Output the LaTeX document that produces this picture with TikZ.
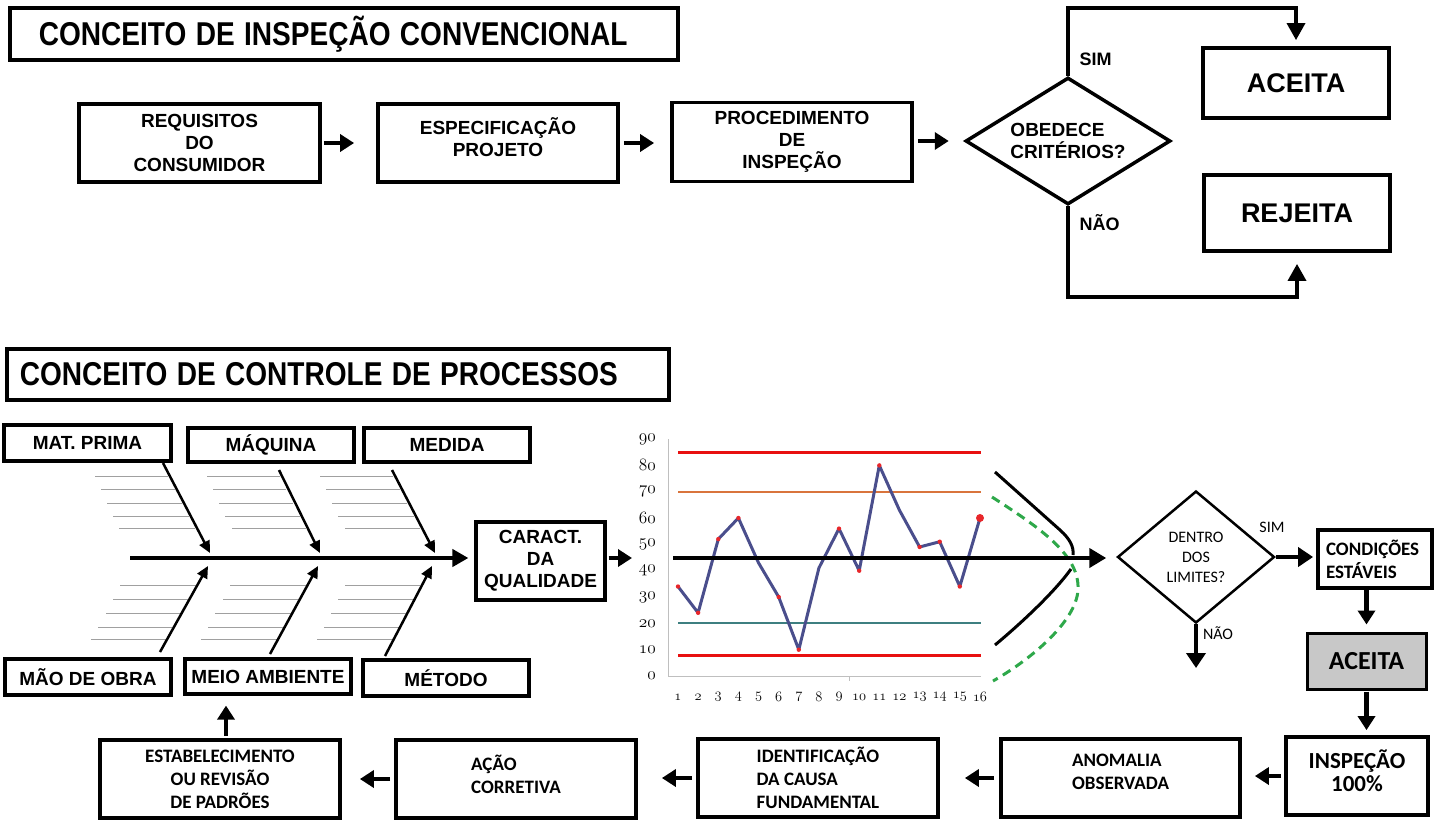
\documentclass[tikz,border=0pt]{standalone}
\usepackage{fontspec}
\setmainfont{Liberation Sans}
\newfontfamily\calfont{Carlito}
\usepackage{graphicx}
\usetikzlibrary{arrows.meta,shapes.geometric,calc}
\definecolor{plotblue}{HTML}{4A4E8C}
\definecolor{ptred}{HTML}{E8262A}
\definecolor{lred}{HTML}{E81010}
\definecolor{lorange}{HTML}{D9743C}
\definecolor{lteal}{HTML}{3D7F80}
\definecolor{hatchc}{HTML}{A0A0A0}
\definecolor{gfill}{HTML}{C8C8C8}
\definecolor{dgreen}{HTML}{2EA84A}
\definecolor{axisc}{HTML}{BFBFBF}
\newcommand\osn[1]{{\usefont{OML}{cmm}{m}{it}#1}}
\begin{document}
\begin{tikzpicture}[x=1pt,y=-1pt,
  box/.style={draw,line width=3.8pt,rectangle,inner sep=0pt,align=center},
  ttl/.style={box,anchor=west,align=left,font=\fontsize{33}{36}\selectfont\bfseries},
  abox/.style={box,font=\fontsize{19}{22}\selectfont\bfseries},
  fbox/.style={box,line width=3.2pt,font=\fontsize{19}{22}\selectfont\bfseries},
  cbox/.style={box,font=\calfont\fontsize{19}{23}\selectfont\bfseries},
  arr/.style={line width=4.5pt,-{Triangle[length=14pt,width=17pt]}},
  bone/.style={line width=2.5pt,-{Triangle[length=12pt,width=11pt]}},
  hatch/.style={hatchc,line width=0.9pt},
  lbl/.style={font=\fontsize{18}{20}\selectfont\bfseries,anchor=west},
  clbl/.style={font=\calfont\fontsize{16}{18}\selectfont},
  tick/.style={font=\fontsize{16}{16}\selectfont},
  xtick/.style={font=\fontsize{14}{14}\selectfont}
]
\useasboundingbox (0,0) rectangle (1435,825);

% ---------- top section ----------
\node[ttl,inner xsep=29pt,text width=610pt,minimum height=52pt] (t1) at (8,34)
  {\scalebox{0.85}[1]{CONCEITO DE INSPEÇÃO CONVENCIONAL}};

\node[abox,minimum width=241pt,minimum height=78pt] (b1) at (199.5,143) {REQUISITOS\\DO\\CONSUMIDOR};
\node[abox,minimum width=240pt,minimum height=78pt] (b2) at (498,143) {ESPECIFICAÇÃO\\PROJETO\\[-10pt]};
\node[abox,minimum width=240pt,minimum height=79pt] (b3) at (792,142) {PROCEDIMENTO\\DE\\INSPEÇÃO};
\node[draw,diamond,line width=3.5pt,aspect=1.6,inner sep=0pt,minimum width=205pt,minimum height=127pt,
  align=left,font=\fontsize{19}{22}\selectfont\bfseries] (d1) at (1068,141) {OBEDECE\\CRITÉRIOS?};
\node[box,minimum width=186pt,minimum height=70pt,font=\fontsize{27}{30}\selectfont\bfseries] (acc1) at (1296,83) {ACEITA};
\node[box,minimum width=186pt,minimum height=76pt,font=\fontsize{27}{30}\selectfont\bfseries] (rej1) at (1297,213) {REJEITA};
\node[lbl] (sim1) at (1076,59) {SIM};
\node[lbl] (nao1) at (1076,223) {NÃO};

\draw[arr,shorten <=2pt,shorten >=22pt] (b1.east) -- (b1.east -| b2.west);
\draw[arr,shorten <=4pt,shorten >=16pt] (b2.east) -- (b2.east -| b3.west);
\draw[arr,shorten <=4pt,shorten >=15pt] (b3.east |- d1.west) -- (d1.west);
\draw[line width=3.5pt,-{Triangle[length=17pt,width=18pt]},shorten >=6pt]
  (d1.north) |- ($(acc1.north)+(0,-38)$) -- (acc1.north);
\draw[line width=3.5pt,-{Triangle[length=17pt,width=18pt]},shorten >=11pt]
  (d1.south) |- ($(rej1.south)+(0,44)$) -- (rej1.south);

% ---------- bottom section title ----------
\node[ttl,inner xsep=13pt,text width=636pt,minimum height=51pt] (t2) at (5,374.5)
  {\scalebox{0.85}[1]{CONCEITO DE CONTROLE DE PROCESSOS}};

% ---------- fishbone ----------
\node[fbox,minimum width=167pt,minimum height=36pt] (mp) at (87.5,443) {MAT. PRIMA};
\node[fbox,minimum width=166pt,minimum height=34pt] (maq) at (271,445) {MÁQUINA};
\node[fbox,minimum width=166pt,minimum height=34pt] (med) at (447,445) {MEDIDA};
\node[fbox,minimum width=166pt,minimum height=36pt] (mo) at (88,677) {MÃO DE OBRA};
\node[fbox,minimum width=166pt,minimum height=35pt] (ma) at (268,676.5) {MEIO AMBIENTE};
\node[fbox,minimum width=166pt,minimum height=36pt] (met) at (446,678) {MÉTODO};
\node[abox,minimum width=129pt,minimum height=78pt,line width=3.2pt] (car) at (540.5,561) {CARACT.\\DA\\QUALIDADE};

\foreach \y/\a/\b in {476/95/168,489/101/175,503/107/182,516/113/189,528/119/195,
  476/207/280,489/213/286,503/219/293,516/225/300,528/232/306,
  476/320/393,489/326/400,503/332/407,516/338/414,528/345/420,
  585/120/196,599/113/188,613/106/180,627/98/172,639/91/166,
  585/230/306,599/223/298,613/215/291,627/208/283,639/201/277,
  585/345/420,599/338/413,613/331/406,627/324/399,639/317/392}
  \draw[hatch] (\a,\y) -- (\b,\y);

\coordinate (sp) at (130,558);
\draw[line width=4pt,-{Triangle[length=16pt,width=17pt]},shorten >=6pt] (sp) -- (sp -| car.west);

\coordinate (u1s) at (163,463); \coordinate (u1e) at (210,553);
\coordinate (u2s) at (279,470); \coordinate (u2e) at (320,553);
\coordinate (u3s) at (392,470); \coordinate (u3e) at (435,553);
\coordinate (l1s) at (160,652); \coordinate (l1e) at (208,566);
\coordinate (l2s) at (270,654); \coordinate (l2e) at (318,566);
\coordinate (l3s) at (385,656); \coordinate (l3e) at (432,566);
\draw[bone] (u1s) -- (u1e);
\draw[bone] (u2s) -- (u2e);
\draw[bone] (u3s) -- (u3e);
\draw[bone] (l1s) -- (l1e);
\draw[bone] (l2s) -- (l2e);
\draw[bone] (l3s) -- (l3e);

% ---------- control chart ----------
\coordinate (chin) at (632,558);
\draw[arr,shorten <=2pt] (car.east |- chin) -- (chin);

\draw[axisc,line width=1pt] (668,439) -- (668,676) -- (981,676);
\draw[axisc,line width=1pt] (849,676) -- (849,681);
\foreach \v in {0,10,...,90}
  \node[tick,anchor=east,inner sep=0pt] (yl\v) at (656,{676-2.633*\v}) {\osn{\v}};
\foreach \i in {1,...,16}
  \node[xtick,inner sep=0pt] (xl\i) at ({678+(\i-1)*20.13},697) {\osn{\i}};

\draw[lred,line width=3pt] (678,452.2) -- (981,452.2);
\draw[lorange,line width=2.2pt] (678,491.7) -- (981,491.7);
\draw[lteal,line width=2.2pt] (678,623.3) -- (981,623.3);
\draw[lred,line width=3pt] (678,655.5) -- (981,655.5);

\draw[plotblue,line width=3pt,line join=round] plot coordinates {
 (678,586.5) (698.1,612.8) (718.3,539.1) (738.4,518.0) (758.5,562.8) (778.7,597.0)
 (798.8,649.7) (818.9,568.0) (839.0,528.6) (859.2,570.7) (879.3,465.4) (899.4,510.1)
 (919.6,547.0) (939.7,541.7) (959.8,586.5) (980,518.0)};
\foreach \p in {(678,586.5),(698.1,612.8),(718.3,539.1),(738.4,518.0),(778.7,597.0),
 (798.8,649.7),(839.0,528.6),(859.2,570.7),(879.3,465.4),(919.6,547.0),(939.7,541.7),(959.8,586.5)}
  \fill[ptred] \p circle (2.2pt);
\fill[ptred] (980,518) circle (4pt);

% curves
\draw[black,line width=3pt] (995,472) -- (1060,530) .. controls (1070,539) and (1074,547) .. (1073,555);
\draw[black,line width=3pt] (1071,569) .. controls (1056,590) and (1025,620) .. (995,645);
\draw[dgreen,line width=3pt,dash pattern=on 9pt off 6pt]
  (992,497) .. controls (1040,528) and (1080,555) .. (1078,590)
  .. controls (1076,622) and (1030,660) .. (993,681);

% ---------- decision ----------
\node[draw,diamond,line width=2.5pt,aspect=1.19,inner sep=0pt,minimum width=157pt,minimum height=132pt,
  align=center,font=\calfont\fontsize{16}{20}\selectfont] (d2) at (1196,557) {DENTRO\\DOS\\LIMITES?};
\coordinate (cl) at (673,558);
\draw[line width=4.5pt,-{Triangle[length=17pt,width=19pt]},shorten >=10pt] (cl) -- (cl -| d2.west);

\node[clbl] (sim2) at (1272,527) {SIM};
\node[clbl] (nao2) at (1218,633) {NÃO};
\node[cbox,minimum width=114pt,minimum height=58pt,inner xsep=8pt,text width=98pt,align=left] (cond) at (1375,559) {CONDIÇÕES\\ESTÁVEIS};
\node[box,line width=3pt,fill=gfill,minimum width=119pt,minimum height=56pt,font=\calfont\fontsize{26}{28}\selectfont\bfseries] (acc2) at (1366.5,661) {ACEITA};
\node[cbox,minimum width=142pt,minimum height=78pt,font=\calfont\fontsize{23}{23}\selectfont\bfseries] (insp) at (1357,776) {INSPEÇÃO\\100\%\\[-12pt]};

\draw[line width=4pt,-{Triangle[length=15pt,width=19pt]},shorten >=3pt] (d2.east) -- (d2.east -| cond.west);
\coordinate (nend) at (1196,668);
\draw[line width=4pt,-{Triangle[length=15pt,width=19pt]}] (d2.south) -- (nend);
\draw[arr,shorten >=7pt] (cond.south -| acc2.north) -- (acc2.north);
\draw[arr,shorten <=1pt,shorten >=5pt] (acc2.south) -- (acc2.south |- insp.north);

% ---------- bottom row ----------
\node[cbox,minimum width=239pt,minimum height=78pt,align=left] (anom) at (1120.5,778) {ANOMALIA\\OBSERVADA\\[-11pt]};
\node[cbox,minimum width=240pt,minimum height=78pt,align=left] (ident) at (818,778) {IDENTIFICAÇÃO\\DA CAUSA\\FUNDAMENTAL};
\node[cbox,minimum width=240pt,minimum height=78pt,align=left] (acao) at (516,779) {AÇÃO\\CORRETIVA\\[-14pt]};
\node[cbox,minimum width=240pt,minimum height=78pt,align=center] (estab) at (220,779) {ESTABELECIMENTO\\OU REVISÃO\\DE PADRÕES};

\draw[arr,shorten <=3pt,shorten >=13pt] (insp.west) -- (insp.west -| anom.east);
\draw[arr,shorten <=5pt,shorten >=25pt] (anom.west) -- (anom.west -| ident.east);
\draw[arr,shorten <=4pt,shorten >=24pt] (ident.west) -- (ident.west -| acao.east);
\draw[arr,shorten <=4pt,shorten >=18pt] (acao.west) -- (acao.west -| estab.east);
\coordinate (ea) at ($(estab.north)+(6,0)$);
\draw[arr,shorten <=2pt,shorten >=10pt] (ea) -- (ea |- ma.south);
\end{tikzpicture}
\end{document}
